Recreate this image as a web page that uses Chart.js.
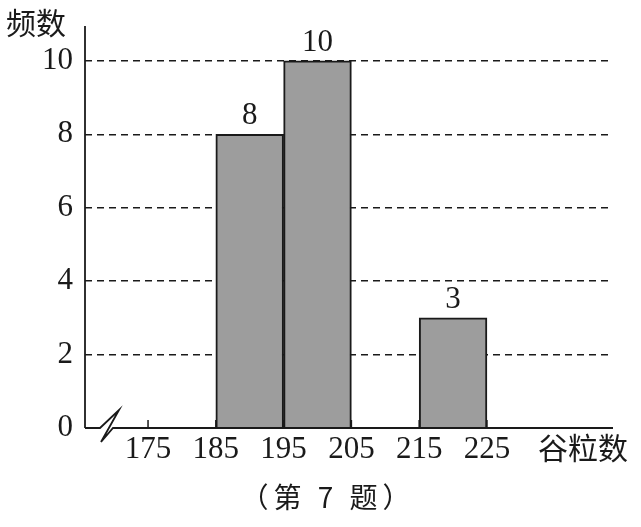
<!DOCTYPE html>
<html>
<head>
<meta charset="utf-8">
<script src="https://cdn.jsdelivr.net/npm/chart.js@4/dist/chart.umd.min.js"></script>
<style>
  html, body { margin: 0; padding: 0; background: #fff; }
  #wrap { width: 641px; height: 527px; position: relative; }
</style>
</head>
<body>
<div id="wrap"><canvas id="histChart"></canvas></div>
<script>
// histogram data: bin left edges (width 10) and their counts
const binStarts = [185, 195, 215];
const binWidth = 10;
const counts = [8, 10, 3];
const xTicks = [175, 185, 195, 205, 215, 225];
const yTicks = [0, 2, 4, 6, 8, 10];

const xTitle = '谷粒数';
const yTitle = '频数';
const caption = '（第 7 题）';

const serif = "'Liberation Serif', 'DejaVu Serif', serif";
const cjk = "'Noto Sans CJK SC', sans-serif";
const ink = '#1a1a1a';

// axes, break mark, small upward ticks and the texts
const decorPlugin = {
    id: 'decor',
    afterDatasetsDraw(chart) {
        const ctx = chart.ctx;
        const area = chart.chartArea;
        const xs = chart.scales.x;
        ctx.save();
        ctx.strokeStyle = ink;
        ctx.lineWidth = 1.8;
        ctx.lineJoin = 'miter';

        // y axis
        ctx.beginPath();
        ctx.moveTo(area.left, area.top);
        ctx.lineTo(area.left, area.bottom);
        ctx.stroke();

        // x axis with break
        let l = area.left, b = area.bottom;
        ctx.beginPath();
        ctx.moveTo(l, b);
        ctx.lineTo(l + 15, b);
        ctx.lineTo(l + 34, b - 18);
        ctx.lineTo(l + 16, b + 14);
        ctx.lineTo(l + 28, b);
        ctx.lineTo(area.right + 2, b);
        ctx.stroke();

        // tick marks pointing up
        ctx.lineWidth = 1.5;
        for (let v of xTicks) {
            let px = xs.getPixelForValue(v);
            ctx.beginPath();
            ctx.moveTo(px, b);
            ctx.lineTo(px, b - 8);
            ctx.stroke();
        }

        // count labels above bars
        ctx.fillStyle = ink;
        ctx.font = '31px ' + serif;
        ctx.textAlign = 'center';
        ctx.textBaseline = 'alphabetic';
        let meta = chart.getDatasetMeta(0);
        meta.data.forEach((bar, i) => {
            ctx.fillText(String(counts[i]), bar.x, bar.y - 10);
        });

        // axis titles and caption
        ctx.font = '30px ' + cjk;
        ctx.textBaseline = 'middle';
        ctx.textAlign = 'left';
        ctx.fillText(yTitle, 6, 23);
        ctx.fillText(xTitle, 538, 448);
        ctx.font = '28px ' + cjk;
        ctx.textAlign = 'center';
        ctx.letterSpacing = '5px';
        ctx.fillText(caption, 328, 497);
        ctx.restore();
    }
};

let histChart = new Chart(document.getElementById('histChart'), {
    type: 'bar',
    data: {
        datasets: [{
            data: binStarts.map((s, i) => ({ x: s + binWidth / 2, y: counts[i] })),
            backgroundColor: '#9d9d9d',
            borderColor: ink,
            borderWidth: 2,
            barPercentage: 1,
            categoryPercentage: 1
        }]
    },
    options: {
        responsive: true,
        maintainAspectRatio: false,
        animation: false,
        layout: { padding: { top: 26, right: 30, left: 0, bottom: 0 } },
        plugins: {
            legend: { display: false },
            tooltip: { enabled: false }
        },
        scales: {
            x: {
                type: 'linear',
                offset: false,
                min: 165.7,
                max: 243.3,
                afterBuildTicks: (scale) => { scale.ticks = xTicks.map(v => ({ value: v })); },
                afterFit: (scale) => { scale.height = 99; },
                grid: { display: false, drawTicks: false, offset: false },
                border: { display: false },
                ticks: {
                    padding: 3,
                    color: ink,
                    font: { family: serif, size: 31 },
                    callback: (v) => String(v)
                }
            },
            y: {
                min: 0,
                max: 10.95,
                afterBuildTicks: (scale) => { scale.ticks = yTicks.map(v => ({ value: v })); },
                afterFit: (scale) => {
                    scale.width = 85;
                    scale.paddingTop = 0;
                },
                grid: {
                    drawTicks: false,
                    lineWidth: 1.5,
                    color: (c) => (c.tick && c.tick.value === 0) ? 'rgba(0,0,0,0)' : ink
                },
                border: { display: false, dash: [7, 5] },
                ticks: {
                    padding: 12,
                    color: ink,
                    font: { family: serif, size: 31 }
                }
            }
        }
    },
    plugins: [decorPlugin]
});
</script>
</body>
</html>
